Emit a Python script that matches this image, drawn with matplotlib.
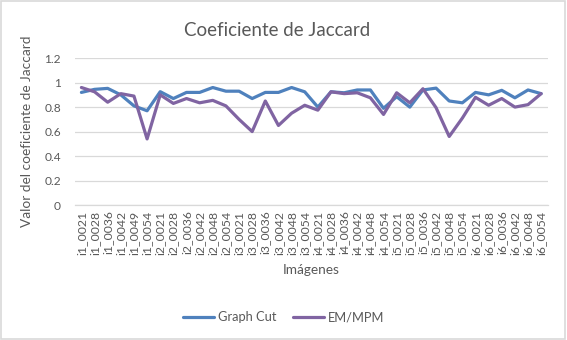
import matplotlib
matplotlib.use("Agg")
import matplotlib.pyplot as plt
from matplotlib.patches import Rectangle

# Data
labels = [f"i{g}_{n}" for g in range(1, 7)
          for n in ["0021", "0028", "0036", "0042", "0049" if g == 1 else "0048", "0054"]]
graph_cut = [0.92, 0.945, 0.953, 0.90, 0.81, 0.77,
             0.926, 0.87, 0.92, 0.92, 0.96, 0.93,
             0.93, 0.87, 0.92, 0.92, 0.96, 0.925,
             0.80, 0.925, 0.917, 0.94, 0.94, 0.79,
             0.885, 0.80, 0.94, 0.955, 0.85, 0.835,
             0.92, 0.90, 0.937, 0.876, 0.94, 0.91]
em_mpm = [0.96, 0.925, 0.84, 0.91, 0.89, 0.54,
          0.90, 0.83, 0.87, 0.835, 0.855, 0.81,
          0.70, 0.60, 0.85, 0.65, 0.75, 0.815,
          0.775, 0.925, 0.91, 0.917, 0.876, 0.74,
          0.917, 0.835, 0.95, 0.795, 0.56, 0.71,
          0.88, 0.815, 0.87, 0.80, 0.82, 0.91]

text_col = "#595959"
grid_col = "#d9d9d9"
plt.rcParams["font.family"] = ["Lato", "DejaVu Sans"]

fig = plt.figure(figsize=(5.67, 3.40), dpi=100)
ax = fig.add_axes([0.132, 0.397, 0.834, 0.432])

x = range(len(labels))
ax.plot(x, graph_cut, color="#4F81BD", lw=2.3, label="Graph Cut", solid_capstyle="round")
ax.plot(x, em_mpm, color="#8064A2", lw=2.3, label="EM/MPM", solid_capstyle="round")

ax.set_xlim(-0.5, len(labels) - 0.5)
ax.set_ylim(0, 1.2)
ax.set_yticks([0, 0.2, 0.4, 0.6, 0.8, 1.0, 1.2])
ax.set_yticklabels(["0", "0.2", "0.4", "0.6", "0.8", "1", "1.2"])
ax.set_xticks(list(x))
ax.set_xticklabels(labels, rotation=90)
ax.tick_params(length=0, colors=text_col, labelsize=8.6)
ax.tick_params(axis="y", pad=10)
ax.tick_params(axis="x", pad=4, labelsize=8.8)
ax.grid(axis="y", color=grid_col, lw=0.9)
ax.set_axisbelow(True)
for s in ["top", "right", "left"]:
    ax.spines[s].set_visible(False)
ax.spines["bottom"].set_color(grid_col)
ax.spines["bottom"].set_linewidth(0.9)

fig.text(0.489, 0.91, "Coeficiente de Jaccard", color=text_col, fontsize=13.5,
         ha="center", va="center")
ax.set_ylabel("Valor del coeficiente de Jaccard", color=text_col, fontsize=9.8, labelpad=8)
ax.set_xlabel("Imágenes", color=text_col, fontsize=9.8, labelpad=7)

fig.legend(loc="center", bbox_to_anchor=(0.5, 0.067), ncol=2, frameon=False,
           fontsize=9.3, handlelength=2.4, handletextpad=0.3, columnspacing=1.3,
           labelcolor=text_col)

fig.patches.append(Rectangle((0.002, 0.004), 0.995, 0.992, transform=fig.transFigure,
                             fill=False, edgecolor=grid_col, lw=1.2))

fig.savefig("out.png", dpi=100)
